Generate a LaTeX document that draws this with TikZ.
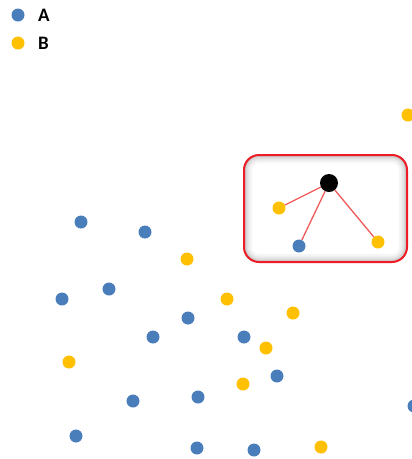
\documentclass[tikz,border=0pt]{standalone}
\usepackage{fontspec}
\setmainfont{Carlito}
\definecolor{dotblue}{HTML}{4A7EBB}
\definecolor{dotyellow}{HTML}{FFC000}
\definecolor{boxred}{HTML}{EE1C25}
\definecolor{linkred}{HTML}{F05A5A}
\tikzset{
  dot/.style={circle, inner sep=0pt, minimum size=13pt},
  adot/.style={dot, fill=dotblue},
  bdot/.style={dot, fill=dotyellow},
  hub/.style={circle, inner sep=0pt, minimum size=18pt, fill=black},
  legendtext/.style={anchor=west, inner sep=0pt, font=\fontsize{19}{19}\selectfont\bfseries},
  link/.style={draw=linkred, line width=1.3pt},
}
\begin{document}
\begin{tikzpicture}[x=1pt,y=-1pt]
\useasboundingbox (0,0) rectangle (412,459);
\fill[white] (0,0) rectangle (412,459);
% legend
\node[adot] (la) at (18,15) {};
\node[legendtext] (lta) at (38,15) {A};
\node[bdot] (lb) at (18,43) {};
\node[legendtext] (ltb) at (38,43) {B};
% highlight box with inner shadow
\begin{scope}
  \clip[rounded corners=15pt] (244,155) rectangle (407,262);
  \foreach \w/\o in {16/0.04,11/0.05,7/0.06,4/0.07}{
    \draw[black, opacity=\o, line width=\w pt, rounded corners=15pt] (244,155) rectangle (407,262);
  }
\end{scope}
\draw[boxred, line width=2pt, rounded corners=15pt] (244,155) rectangle (407,262);
% cluster
\node[hub] (c) at (329,183) {};
\node[bdot] (k1) at (279,208) {};
\node[adot] (k2) at (299,246) {};
\node[bdot] (k3) at (378,242) {};
\draw[link] (c) -- (k1);
\draw[link] (c) -- (k2);
\draw[link] (c) -- (k3);
% scattered points
\node[bdot] (p1) at (408,115) {};
\node[adot] (p2) at (81,222) {};
\node[adot] (p3) at (145,232) {};
\node[bdot] (p4) at (187,259) {};
\node[adot] (p5) at (109,289) {};
\node[adot] (p6) at (62,299) {};
\node[bdot] (p7) at (227,299) {};
\node[bdot] (p8) at (293,313) {};
\node[adot] (p9) at (188,318) {};
\node[adot] (p10) at (153,337) {};
\node[adot] (p11) at (244,337) {};
\node[bdot] (p12) at (266,348) {};
\node[bdot] (p13) at (69,362) {};
\node[adot] (p14) at (277,376) {};
\node[bdot] (p15) at (243,384) {};
\node[adot] (p16) at (133,401) {};
\node[adot] (p17) at (198,397) {};
\node[adot] (p18) at (414,406) {};
\node[adot] (p19) at (76,436) {};
\node[adot] (p20) at (197,448) {};
\node[adot] (p21) at (254,450) {};
\node[bdot] (p22) at (321,447) {};
\end{tikzpicture}
\end{document}
